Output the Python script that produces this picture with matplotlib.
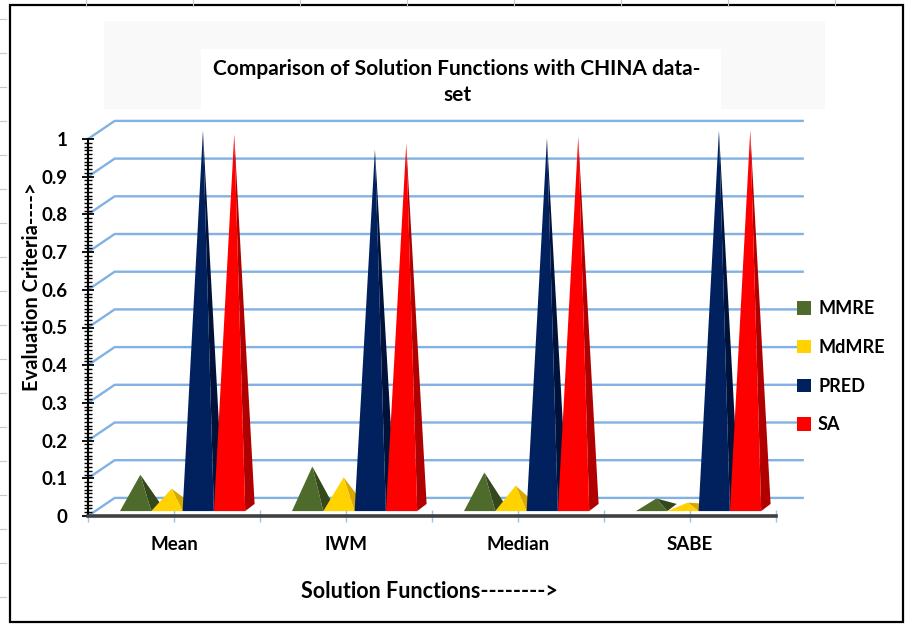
import matplotlib
matplotlib.use('Agg')
import numpy as np
from matplotlib import pyplot as plt
from matplotlib.patches import Polygon, Rectangle, Patch
from matplotlib.lines import Line2D

plt.rcParams['font.family'] = ['Lato', 'DejaVu Sans']
plt.rcParams['font.weight'] = 'bold'

categories = ['Mean', 'IWM', 'Median', 'SABE']
series = ['MMRE', 'MdMRE', 'PRED', 'SA']
mmre = [0.087, 0.109, 0.093, 0.024]
mdmre = [0.050, 0.080, 0.058, 0.013]
pred = [1.0, 0.95, 0.98, 1.0]
sa = [0.99, 0.965, 0.983, 1.0]

front_cols = ['#4f6b2c', '#ffd200', '#00215e', '#ff0000']
side_cols = ['#34481c', '#d9a800', '#00123a', '#b00000']

W, H = 906, 630
fig = plt.figure(figsize=(W / 100, H / 100), dpi=100)


def fx(x):
    return x / W


def fy(y):
    return 1 - y / H


# spreadsheet-ish background + chart border
for x in range(86, 900, 107):
    fig.add_artist(Line2D([fx(x), fx(x)], [fy(0), fy(6)], color='#c8c8c8', lw=0.8))
for y in range(19, 630, 34):
    fig.add_artist(Line2D([fx(0), fx(6)], [fy(y), fy(y)], color='#c8c8c8', lw=0.8))
fig.add_artist(Rectangle((fx(10), fy(622)), fx(893), 617 / H, fill=False,
                         edgecolor='black', lw=1.6))
fig.add_artist(Rectangle((fx(104), fy(109)), fx(721), 88 / H, color='#f9f9f9', lw=0))
fig.add_artist(Rectangle((fx(201), fy(109)), fx(520), 60 / H, color='white', lw=0))
fig.text(fx(457), fy(82), 'Comparison of Solution Functions with CHINA data-\nset',
         ha='center', va='center', fontsize=15, fontweight='bold', linespacing=1.35)

# axes: 172 px per category, 377 px per unit
left_px, zero_px = 88, 516
ax = fig.add_axes([fx(left_px), fy(zero_px), fx(172 * 4.2), 377 * 1.1 / H])
ax.set_xlim(-0.5, 3.7)
ax.set_ylim(0, 1.1)
ax.patch.set_alpha(0)

# 3d wall grid
gdx, gdy = 0.155, 0.048
ticks = np.round(np.arange(0, 1.01, 0.1), 1)
for v in ticks:
    ax.plot([-0.5, -0.5 + gdx, 3.5 + gdx], [v, v + gdy, v + gdy],
            color='#82b1e3', lw=1.7, zorder=1, clip_on=False)

# pyramids
w = 0.182
ddx, ddy = 0.3 * w, 0.019
base = 0.013
vals = [mmre, mdmre, pred, sa]
for i in range(len(categories)):
    for k in range(len(series)):
        x0 = i - 0.314 + k * w
        v = vals[k][i]
        apex = (x0 + w / 2 + ddx / 2, base + ddy / 2 + v)
        ax.add_patch(Polygon([(x0 + w, base), (x0 + w + ddx, base + ddy), apex],
                             color=side_cols[k], lw=0, zorder=3, clip_on=False))
        ax.add_patch(Polygon([(x0, base), (x0 + w, base), apex],
                             color=front_cols[k], lw=0, zorder=3, clip_on=False))

# axis styling
for s in ['top', 'right']:
    ax.spines[s].set_visible(False)
ax.spines['left'].set_bounds(0, 1)
ax.spines['left'].set_linewidth(1.5)
ax.spines['bottom'].set_bounds(-0.5, 3.5)
ax.spines['bottom'].set_linewidth(2.6)
ax.spines['bottom'].set_color('#404040')
ax.spines['bottom'].set_zorder(4)

ax.set_yticks(ticks)
ax.set_yticklabels(['0', '0.1', '0.2', '0.3', '0.4', '0.5', '0.6', '0.7', '0.8', '0.9', '1'])
ax.set_yticks(np.arange(0, 1.001, 0.01), minor=True)
ax.tick_params(axis='y', which='major', direction='inout', length=9, width=1.3,
               labelsize=13.5, pad=10)
ax.tick_params(axis='y', which='minor', direction='inout', length=6, width=1)

ax.set_xticks(range(len(categories)))
ax.set_xticklabels(categories)
ax.set_xticks(np.arange(-0.5, 3.6, 1), minor=True)
ax.tick_params(axis='x', which='both', direction='inout', length=9, width=1,
               color='#9dc3e6', labelsize=13.5, pad=10)
for t in ax.get_xticklabels() + ax.get_yticklabels():
    t.set_fontweight('bold')

fig.text(fx(429), fy(591), 'Solution Functions-------->', ha='center', va='center',
         fontsize=15.5, fontweight='bold')
fig.text(fx(32), fy(287), 'Evaluation Criteria---->', ha='center', va='center',
         rotation=90, fontsize=14.5, fontweight='bold')

handles = [Patch(facecolor=c, edgecolor='none') for c in front_cols]
fig.legend(handles, series, loc='upper left', bbox_to_anchor=(fx(781), fy(284)),
           frameon=False, handlelength=0.75, handleheight=0.75,
           handletextpad=0.4, labelspacing=1.2, prop={'weight': 'bold', 'size': 13})

fig.savefig('out.png', dpi=100)
